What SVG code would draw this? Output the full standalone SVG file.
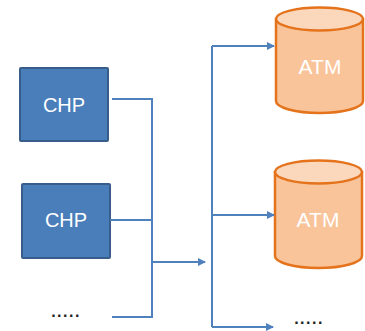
<svg xmlns="http://www.w3.org/2000/svg" width="365" height="331" viewBox="0 0 365 331">
<style>
.chp{fill:#4A7EBB;stroke:#385D8A;stroke-width:2}
.lbl{font-family:"Liberation Sans",Arial,sans-serif;font-size:20px;fill:#FFFFFF;text-anchor:middle}
.atm{font-size:21px}
.cyl{fill:#F9C49A;stroke:#E4731C;stroke-width:2.5}
.top{fill:#FBD7BC;stroke:#E4731C;stroke-width:2.5}
.con{fill:none;stroke:#4F81BD;stroke-width:2}
.dots{font-family:"Liberation Sans",Arial,sans-serif;font-size:16px;font-weight:bold;letter-spacing:1.5px;fill:#222;text-anchor:middle}
</style>
<defs>
<marker id="arr" markerWidth="8" markerHeight="8" refX="7" refY="4" orient="auto" markerUnits="userSpaceOnUse">
<path d="M0,0 L8,4 L0,8 Z" fill="#4F81BD"/>
</marker>
</defs>
<g id="chp1"><rect class="chp" x="20" y="68" width="88" height="73" rx="1"/><text class="lbl" x="64" y="112">CHP</text></g>
<g id="chp2"><rect class="chp" x="22" y="184" width="88" height="74" rx="1"/><text class="lbl" x="66" y="227">CHP</text></g>
<g id="chp-more"><text class="dots" x="66" y="317">.....</text></g>
<g id="atm1">
<path class="cyl" d="M276,19 L276,101 A43.5,12 0 0 0 363,101 L363,19 Z"/>
<ellipse class="top" cx="319.5" cy="19" rx="43.5" ry="11.5"/>
<text class="lbl atm" x="320" y="74">ATM</text>
</g>
<g id="atm2">
<path class="cyl" d="M275,172 L275,256 A43.5,12 0 0 0 362,256 L362,172 Z"/>
<ellipse class="top" cx="318.5" cy="172" rx="43.5" ry="11.5"/>
<text class="lbl atm" x="318" y="227">ATM</text>
</g>
<g id="atm-more"><text class="dots" x="309" y="324">.....</text></g>
<g id="connectors">
<path class="con" d="M112,99 H152 V317 H112"/>
<path class="con" d="M110,220 H152"/>
<path class="con" d="M152,262 H205" marker-end="url(#arr)"/>
<path class="con" d="M212,46 V327"/>
<path class="con" d="M212,46 H274" marker-end="url(#arr)"/>
<path class="con" d="M212,215 H274" marker-end="url(#arr)"/>
<path class="con" d="M212,327 H273" marker-end="url(#arr)"/>
</g>
</svg>
